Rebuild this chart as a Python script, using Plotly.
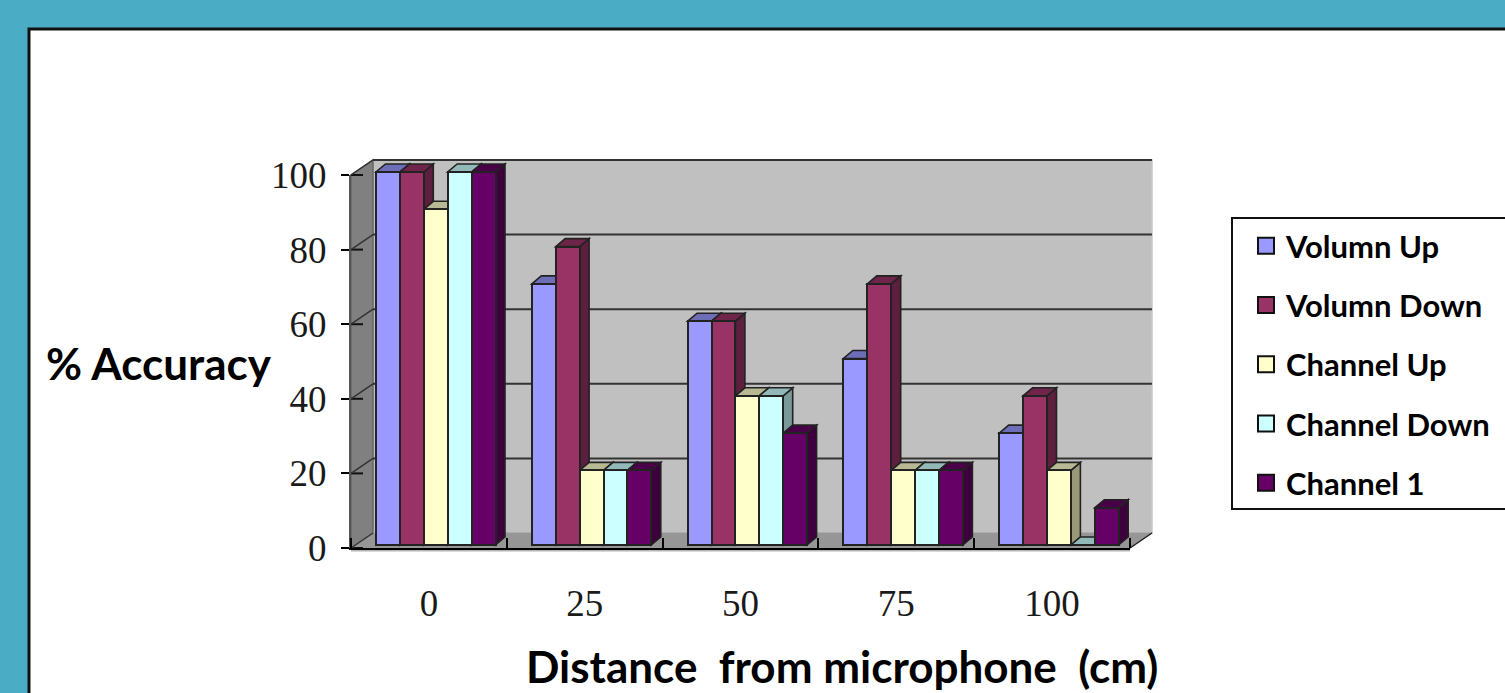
import plotly.graph_objects as go

# ---- data ----
categories = ["0", "25", "50", "75", "100"]
series_names = ["Volumn Up", "Volumn Down", "Channel Up", "Channel Down", "Channel 1"]
volumn_up = [100, 70, 60, 50, 30]
volumn_down = [100, 80, 60, 70, 40]
channel_up = [90, 20, 40, 20, 20]
channel_down = [100, 20, 40, 20, 0]
channel_1 = [100, 20, 30, 20, 10]
series_values = [volumn_up, volumn_down, channel_up, channel_down, channel_1]
series_colors = ["#9999FF", "#993366", "#FFFFCC", "#CCFFFF", "#660066"]
y_ticks = [0, 20, 40, 60, 80, 100]

W, H = 1505, 693
X0_PX, Y0_PX = 351, 548          # front-left-bottom corner of the chart box
UX, UY = 155.8, 3.73             # pixels per category, pixels per percent
N = len(categories)

WALL_DX, WALL_DY = 22 / UX, 15 / UY
BAR_DX, BAR_DY = 9.5 / UX, 8 / UY
BAR_W = 23.9 / UX
BAR_START = 25 / UX
BAR_LIFT = 3 / UY
FONT = "Lato"
SERIF = "Liberation Serif"


def shade(color, f):
    r, g, b = (int(color[i:i + 2], 16) for i in (1, 3, 5))
    return f"rgb({r * f:.0f},{g * f:.0f},{b * f:.0f})"


def path(points):
    return "M" + "L".join(f"{x:.4f},{y:.3f}" for x, y in points) + "Z"


def poly(points, fill, line="#222222", width=1.6):
    return dict(type="path", xref="x", yref="y", layer="below", path=path(points),
                fillcolor=fill, line=dict(color=line, width=width))


def seg(x0, y0, x1, y1, color, width):
    return dict(type="line", xref="x", yref="y", layer="below", x0=x0, y0=y0, x1=x1, y1=y1,
                line=dict(color=color, width=width))


def paper_rect(x0, y0, x1, y1, fill, line, width):
    return dict(type="rect", xref="paper", yref="paper", layer="below",
                x0=x0 / W, x1=x1 / W, y0=1 - y0 / H, y1=1 - y1 / H,
                fillcolor=fill, line=dict(color=line, width=width))


shapes = [
    paper_rect(29, 29, W + 20, H + 20, "white", "#111111", 3),   # white panel
    paper_rect(1232, 218, W + 20, 509, "white", "#111111", 2),   # legend box
]

# chart box: back wall, left wall, floor
top = 100
shapes += [
    poly([(WALL_DX, WALL_DY), (N + WALL_DX, WALL_DY), (N + WALL_DX, top + WALL_DY), (WALL_DX, top + WALL_DY)],
         "#C0C0C0", "#C8C8C8", 1.5),
    poly([(0, 0), (WALL_DX, WALL_DY), (WALL_DX, top + WALL_DY), (0, top)], "#808080", "#666666", 1.5),
    poly([(0, 0), (N, 0), (N + WALL_DX, WALL_DY), (WALL_DX, WALL_DY)], "#969696", "#969696", 1),
    seg(WALL_DX, top + WALL_DY, N + WALL_DX, top + WALL_DY, "#333333", 2),
    seg(0, -0.7, N, -0.7, "#B4B4B4", 2),
    seg(N, 0, N + WALL_DX, WALL_DY, "#222222", 1.5),
]
for v in y_ticks:
    shapes.append(seg(0, v, 12 / UX, v, "#111111", 2))
    shapes.append(seg(0, v, WALL_DX, v + WALL_DY, "#333333", 1.5))
    if 0 < v < 100:
        shapes.append(seg(WALL_DX, v + WALL_DY, N + WALL_DX, v + WALL_DY, "#333333", 2))

# 3-D depth faces, painted left to right; front faces are real bars on top
for c in range(N):
    for s, vals in enumerate(series_values):
        v = vals[c]
        x0 = c + BAR_START + s * BAR_W
        x1 = x0 + BAR_W
        t = v + BAR_LIFT
        col = series_colors[s]
        shapes.append(poly([(x1, BAR_LIFT), (x1 + BAR_DX, BAR_LIFT + BAR_DY),
                            (x1 + BAR_DX, t + BAR_DY), (x1, t)], shade(col, 0.6)))
        shapes.append(poly([(x0, t), (x1, t), (x1 + BAR_DX, t + BAR_DY), (x0 + BAR_DX, t + BAR_DY)],
                           shade(col, 0.72)))

fig = go.Figure()
for s, vals in enumerate(series_values):
    fig.add_trace(go.Bar(
        x=[c + BAR_START + (s + 0.5) * BAR_W for c in range(N)],
        y=vals, base=BAR_LIFT, width=BAR_W, name=series_names[s], showlegend=False,
        marker=dict(color=series_colors[s], line=dict(color="#222222", width=2)),
        xaxis="x", yaxis="y",
    ))
for s, name in enumerate(series_names):
    fig.add_trace(go.Scatter(
        x=[None], y=[None], mode="markers", name=name, legendgroup=name,
        marker=dict(symbol="square", size=16, color=series_colors[s],
                    line=dict(color="#111111", width=2)),
        xaxis="x2", yaxis="y2",
    ))

fig.update_layout(
    width=W, height=H, autosize=False,
    margin=dict(l=0, r=0, t=0, b=0, pad=0, autoexpand=False),
    paper_bgcolor="#4BACC6", plot_bgcolor="rgba(0,0,0,0)",
    barmode="overlay", bargap=0,
    shapes=shapes,
    xaxis=dict(domain=[0, 1], range=[-X0_PX / UX, (W - X0_PX) / UX], visible=False),
    yaxis=dict(domain=[0, 1], range=[-(H - Y0_PX) / UY, Y0_PX / UY], visible=False),
    xaxis2=dict(domain=[X0_PX / W, 1130 / W], range=[0, N], anchor="y2",
                tickmode="array", tickvals=[i + 0.5 for i in range(N)], ticktext=categories,
                ticks="", showgrid=False, zeroline=False, showline=True,
                linecolor="#000000", linewidth=2, ticklabelstandoff=22,
                minor=dict(tickmode="array", tickvals=list(range(N + 1)), ticks="inside",
                           ticklen=10, tickwidth=2, tickcolor="#000000", showgrid=False),
                tickfont=dict(family=SERIF, size=37, color="#1A1A1A")),
    yaxis2=dict(domain=[(H - Y0_PX) / H, (H - 175) / H], range=[0, 100], anchor="x2",
                tickmode="array", tickvals=y_ticks, ticks="outside", ticklen=8, tickwidth=2,
                tickcolor="#000000", showgrid=False, zeroline=False, showline=True,
                linecolor="#555555", linewidth=2, ticklabelstandoff=7,
                tickfont=dict(family=SERIF, size=37, color="#1A1A1A")),
    legend=dict(x=1244 / W, y=1 - 219 / H, xanchor="left", yanchor="top",
                bgcolor="rgba(0,0,0,0)", borderwidth=0, itemwidth=30, indentation=2,
                traceorder="grouped", tracegroupgap=16,
                font=dict(family=FONT, size=31, color="#000000", weight=700)),
    annotations=[
        dict(text="% Accuracy", xref="paper", yref="paper", x=159 / W, y=1 - 363 / H,
             xanchor="center", yanchor="middle", showarrow=False,
             font=dict(family=FONT, size=44, color="#000000", weight=700)),
        dict(text="Distance  from microphone  (cm)", xref="paper", yref="paper", x=842 / W, y=1 - 666 / H,
             xanchor="center", yanchor="middle", showarrow=False,
             font=dict(family=FONT, size=44, color="#000000", weight=700)),
    ],
)

fig.write_html("out.html", config=dict(displayModeBar=False),
               post_script="document.body.style.margin='0';document.body.style.overflow='hidden';")
